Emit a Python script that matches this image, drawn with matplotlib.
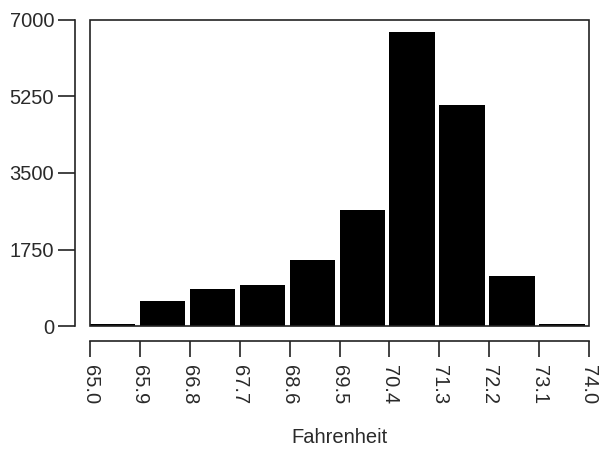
import matplotlib
matplotlib.use("Agg")
import matplotlib.pyplot as plt
from matplotlib.patches import Rectangle

# Data
bin_edges = [65.0, 65.9, 66.8, 67.7, 68.6, 69.5, 70.4, 71.3, 72.2, 73.1, 74.0]
tick_labels = ["65.0", "65.9", "66.8", "67.7", "68.6", "69.5", "70.4", "71.3", "72.2", "73.1", "74.0"]
counts = [46, 579, 846, 931, 1503, 2647, 6732, 5062, 1151, 46]
y_ticks = [0, 1750, 3500, 5250, 7000]
x_label = "Fahrenheit"

plt.rcParams['font.family'] = ['Liberation Sans', 'DejaVu Sans']
text_color = '#2a2a2a'
line_color = '#222222'

fig = plt.figure(figsize=(6.09, 4.51), dpi=100)
ax = fig.add_axes([90/609, 1 - 326/451, (589-90)/609, (326-20)/451])

bin_w = bin_edges[1] - bin_edges[0]
ax.bar(bin_edges[:-1], counts, width=bin_w * 0.91, align='edge',
       color='black', edgecolor='none', zorder=2)

ax.set_xlim(bin_edges[0], bin_edges[-1])
ax.set_ylim(0, 7000)
ax.set_xticks(bin_edges)
ax.set_xticklabels(tick_labels)
ax.set_yticks(y_ticks)
ax.set_yticklabels([str(v) for v in y_ticks])

for s in ['top', 'right']:
    ax.spines[s].set_visible(False)
for s in ['left', 'bottom']:
    ax.spines[s].set_position(('outward', 10.8))
    ax.spines[s].set_linewidth(1.2)
    ax.spines[s].set_color(line_color)

ax.add_patch(Rectangle((0, 0), 1, 1, transform=ax.transAxes, fill=False,
                       edgecolor=line_color, linewidth=1.2, clip_on=False, zorder=3))

ax.tick_params(axis='y', direction='out', length=12, width=1.2, color=line_color,
               labelsize=14.5, labelcolor=text_color, pad=3)
ax.tick_params(axis='x', direction='out', length=11.5, width=1.2, color=line_color,
               labelsize=14.5, labelcolor=text_color, pad=6, labelrotation=-90)

ax.set_xlabel(x_label, fontsize=14.5, color=text_color, labelpad=16.5)

fig.savefig("out.png", dpi=100)
